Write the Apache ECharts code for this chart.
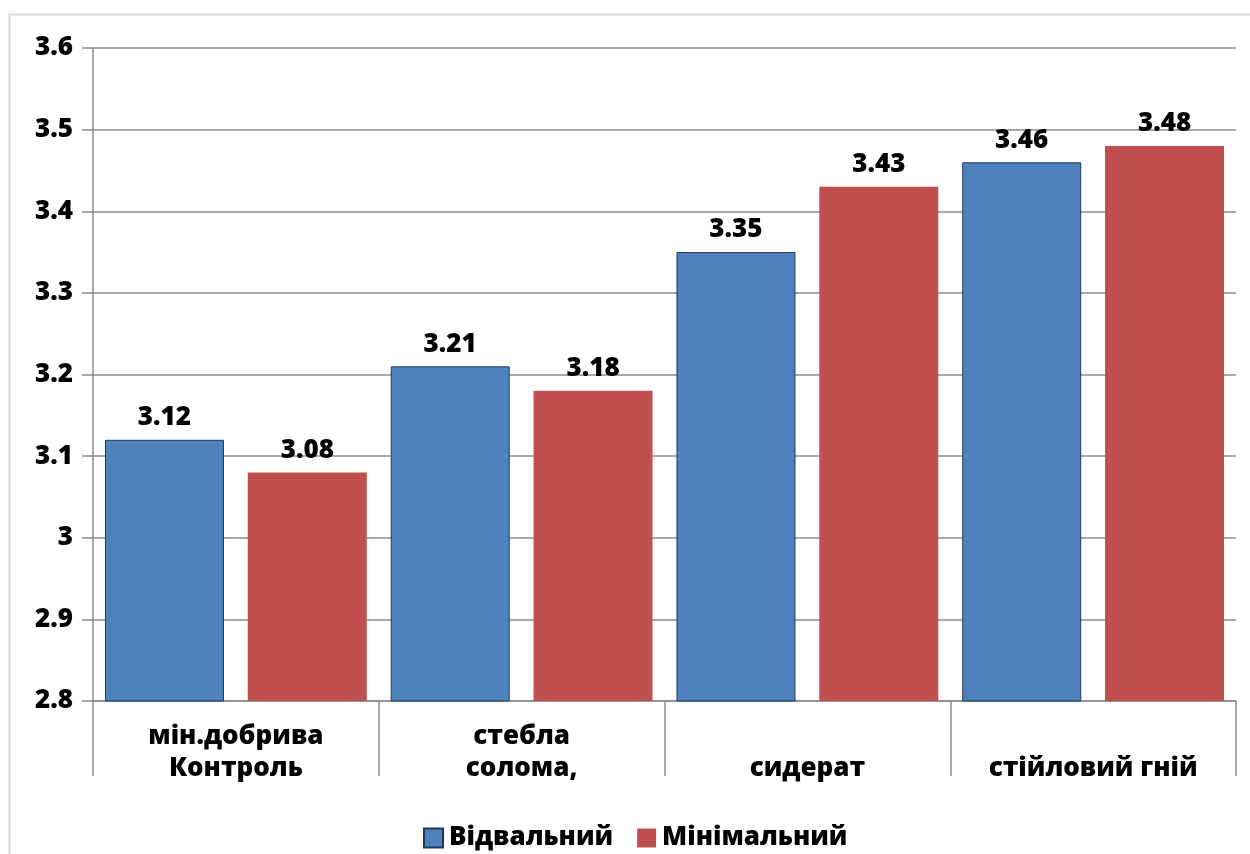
<!DOCTYPE html>
<html>
<head>
<meta charset="utf-8">
<script src="https://cdn.jsdelivr.net/npm/echarts@6/dist/echarts.min.js"></script>
<style>
  html, body { margin: 0; padding: 0; background: #ffffff; }
  #chart { width: 1250px; height: 854px; }
</style>
</head>
<body>
<div id="chart"></div>
<script>
// Categories of soil treatment and the two tillage systems
const categories = ['мін.добрива\nКонтроль', 'стебла\nсолома,', 'сидерат', 'стійловий гній'];
const seriesNames = ['Відвальний', 'Мінімальний'];
const valuesVidvalnyi = [3.12, 3.21, 3.35, 3.46];
const valuesMinimalnyi = [3.08, 3.18, 3.43, 3.48];

const axisGray = '#8c8c8c';
const fontFamily = '"Open Sans", "Noto Sans", sans-serif';
const fontWeight = 800;

const chart = echarts.init(document.getElementById('chart'), null, { renderer: 'canvas' });

const labelStyle = {
  show: true,
  position: 'top',
  distance: 9,
  color: '#000',
  fontFamily: fontFamily,
  fontWeight: fontWeight,
  fontSize: 26,
  formatter: p => p.value.toFixed(2)
};

chart.setOption({
  animation: false,
  backgroundColor: '#ffffff',
  graphic: [{
    type: 'rect',
    shape: { x: 9.5, y: 14.5, width: 1400, height: 1000 },
    style: { fill: 'none', stroke: '#d9d9d9', lineWidth: 2 },
    silent: true,
    z: -10
  }],
  grid: { left: 93, right: 14, top: 48, bottom: 153, containLabel: false },
  legend: {
    bottom: -2,
    left: 418,
    itemWidth: 19,
    itemHeight: 19,
    itemGap: 24,
    icon: 'rect',
    textStyle: { color: '#000', fontFamily: fontFamily, fontWeight: fontWeight, fontSize: 26, padding: [0, 0, 0, 1] },
    data: seriesNames
  },
  xAxis: {
    type: 'category',
    data: categories,
    axisLine: { show: true, lineStyle: { color: axisGray, width: 1.5 } },
    axisTick: { show: true, length: 75, interval: 0, lineStyle: { color: axisGray, width: 1.5 } },
    axisLabel: {
      interval: 0,
      margin: 84,
      verticalAlign: 'bottom',
      color: '#000',
      fontFamily: fontFamily,
      fontWeight: fontWeight,
      fontSize: 26,
      lineHeight: 32
    }
  },
  yAxis: {
    type: 'value',
    min: 2.8,
    max: 3.6,
    interval: 0.1,
    axisLine: { show: true, lineStyle: { color: axisGray, width: 1.5 } },
    axisTick: { show: true, length: 11, lineStyle: { color: axisGray, width: 1.5 } },
    splitLine: { show: true, lineStyle: { color: axisGray, width: 1.5 } },
    axisLabel: {
      margin: 20,
      color: '#000',
      fontFamily: fontFamily,
      fontWeight: fontWeight,
      fontSize: 26,
      formatter: v => String(Math.round(v * 10) / 10)
    }
  },
  series: [
    {
      name: seriesNames[0],
      type: 'bar',
      data: valuesVidvalnyi,
      barWidth: 119,
      barGap: '20%',
      itemStyle: { color: '#4f81bd', borderColor: '#1f3a5f', borderWidth: 1 },
      label: labelStyle
    },
    {
      name: seriesNames[1],
      type: 'bar',
      data: valuesMinimalnyi,
      barWidth: 119,
      barGap: '20%',
      itemStyle: { color: '#c0504d' },
      label: labelStyle
    }
  ]
});
</script>
</body>
</html>
